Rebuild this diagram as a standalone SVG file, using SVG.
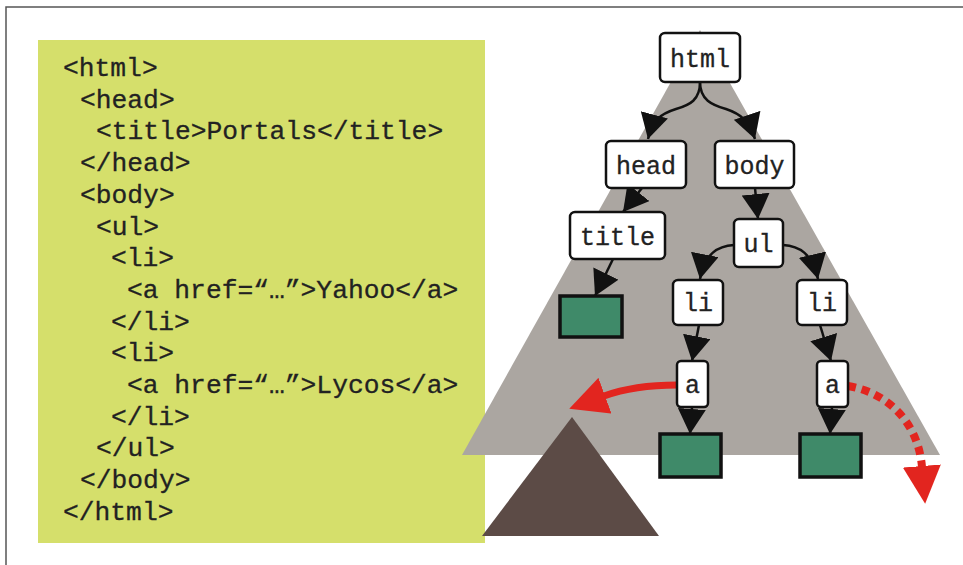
<svg xmlns="http://www.w3.org/2000/svg" width="963" height="565" viewBox="0 0 963 565">
  <style>
    .code { font-family: "Courier New", "Nimbus Mono PS", "FreeMono", "Liberation Mono", monospace; font-size: 26.3px; fill: #222; stroke: #222; stroke-width: 0.3; }
    .lbl { font-family: "Courier New", "Nimbus Mono PS", "FreeMono", "Liberation Mono", monospace; font-size: 25px; fill: #222; stroke: #222; stroke-width: 0.3; text-anchor: middle; }
    .box { fill: #ffffff; stroke: #111; stroke-width: 2.5; }
    .leaf { fill: #3f8a69; stroke: #111; stroke-width: 3.5; }
    .edge { fill: none; stroke: #111; stroke-width: 2.5; marker-end: url(#ah); }
  </style>
  <defs>
    <marker id="ah" markerUnits="userSpaceOnUse" markerWidth="25" markerHeight="28" refX="25" refY="14" orient="auto" viewBox="0 0 25 28">
      <path d="M0,0 L25,14 L0,28 z" fill="#111"/>
    </marker>
    <marker id="rh" markerUnits="userSpaceOnUse" markerWidth="38" markerHeight="38" refX="1" refY="19" orient="auto" viewBox="0 0 38 38">
      <path d="M0,0 L38,19 L0,38 z" fill="#e2251f"/>
    </marker>
  </defs>

  <rect x="0" y="0" width="963" height="565" fill="#ffffff"/>
  <rect x="6" y="7" width="980" height="580" fill="none" stroke="#555" stroke-width="1.5"/>

  <g id="code-panel">
    <rect x="38" y="40" width="447" height="503" fill="#d5df6b"/>
    <text class="code" x="63" y="76">&lt;html&gt;</text>
    <text class="code" x="80" y="107.7">&lt;head&gt;</text>
    <text class="code" x="96" y="139.4">&lt;title&gt;Portals&lt;/title&gt;</text>
    <text class="code" x="80" y="171.1">&lt;/head&gt;</text>
    <text class="code" x="80" y="202.8">&lt;body&gt;</text>
    <text class="code" x="96" y="234.5">&lt;ul&gt;</text>
    <text class="code" x="111" y="266.2">&lt;li&gt;</text>
    <text class="code" x="127" y="297.9">&lt;a href=“…”&gt;Yahoo&lt;/a&gt;</text>
    <text class="code" x="111" y="329.6">&lt;/li&gt;</text>
    <text class="code" x="111" y="361.3">&lt;li&gt;</text>
    <text class="code" x="127" y="393">&lt;a href=“…”&gt;Lycos&lt;/a&gt;</text>
    <text class="code" x="111" y="424.7">&lt;/li&gt;</text>
    <text class="code" x="96" y="456.4">&lt;/ul&gt;</text>
    <text class="code" x="80" y="488.1">&lt;/body&gt;</text>
    <text class="code" x="63" y="519.8">&lt;/html&gt;</text>
  </g>

  <g id="tree-background">
    <polygon points="700,30 462,455 940,455" fill="#aba6a1"/>
    <polygon points="572,417 482,536 659,536" fill="#5c4b46"/>
  </g>

  <g id="connectors">
    <path class="edge" d="M700,82 C700,100 690,105 676,109 C660,114 653,120 648,139"/>
    <path class="edge" d="M700,82 C700,100 712,105 726,109 C741,114 749,121 755,139"/>
    <path class="edge" d="M642,188 L623,212"/>
    <path class="edge" d="M755,188 L758,219"/>
    <path class="edge" d="M734,245 C718,246 705,253 700,279"/>
    <path class="edge" d="M783,245 C799,246 812,253 818,279"/>
    <path class="edge" d="M613,259 L595,296"/>
    <path class="edge" d="M699,325 L692,361"/>
    <path class="edge" d="M820,325 L831,361"/>
    <path class="edge" d="M692,407 L690,434"/>
    <path class="edge" d="M832,407 L830,434"/>
    <path d="M677,385 C652,385 626,388 604,396" fill="none" stroke="#e2251f" stroke-width="7" marker-end="url(#rh)"/>
    <path d="M848,386 C885,392 918,420 922,467" fill="none" stroke="#e2251f" stroke-width="8" stroke-dasharray="8 6" marker-end="url(#rh)"/>
  </g>

  <g id="node-html">
    <rect class="box" x="660" y="33" width="80" height="49" rx="5"/>
    <text class="lbl" x="700" y="66.5">html</text>
  </g>
  <g id="node-head">
    <rect class="box" x="606" y="141" width="80" height="47" rx="5"/>
    <text class="lbl" x="646" y="173.5">head</text>
  </g>
  <g id="node-body">
    <rect class="box" x="715" y="141" width="79" height="47" rx="5"/>
    <text class="lbl" x="754.5" y="173.5">body</text>
  </g>
  <g id="node-title">
    <rect class="box" x="570" y="212" width="95" height="47" rx="5"/>
    <text class="lbl" x="617.5" y="244.5">title</text>
  </g>
  <g id="node-ul">
    <rect class="box" x="734" y="219" width="49" height="48" rx="5"/>
    <text class="lbl" x="758.5" y="252">ul</text>
  </g>
  <g id="node-li-1">
    <rect class="box" x="673" y="280" width="50" height="45" rx="5"/>
    <text class="lbl" x="698" y="311">li</text>
  </g>
  <g id="node-li-2">
    <rect class="box" x="797" y="280" width="50" height="45" rx="5"/>
    <text class="lbl" x="822" y="311">li</text>
  </g>
  <g id="node-a-1">
    <rect class="box" x="677" y="361" width="31" height="46" rx="4"/>
    <text class="lbl" x="692.5" y="393">a</text>
  </g>
  <g id="node-a-2">
    <rect class="box" x="817" y="361" width="31" height="46" rx="4"/>
    <text class="lbl" x="832.5" y="393">a</text>
  </g>
  <g id="leaf-title-text">
    <rect class="leaf" x="560" y="296" width="62" height="41"/>
  </g>
  <g id="leaf-a-1-text">
    <rect class="leaf" x="660" y="434" width="61" height="43"/>
  </g>
  <g id="leaf-a-2-text">
    <rect class="leaf" x="800" y="434" width="61" height="43"/>
  </g>
</svg>
